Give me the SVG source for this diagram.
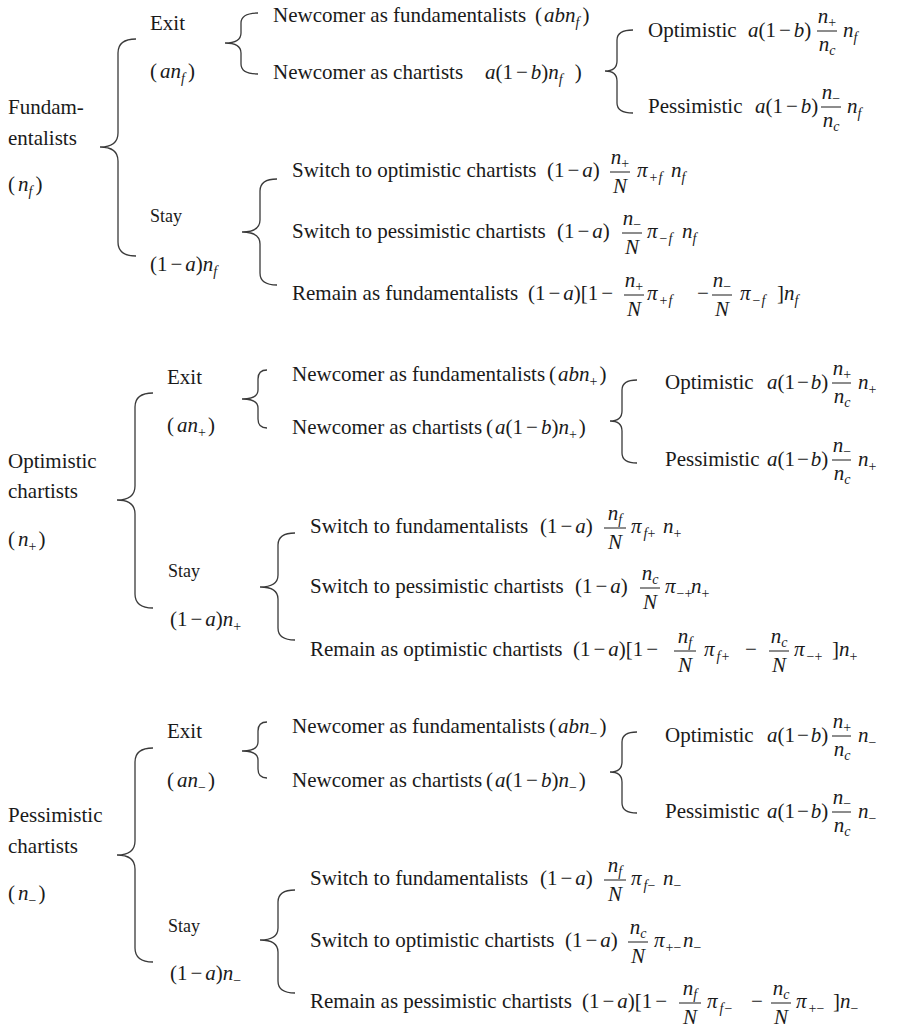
<svg xmlns="http://www.w3.org/2000/svg" width="906" height="1033" viewBox="0 0 906 1033">
<style>
text{font-family:"Liberation Serif","Times New Roman",serif;font-size:21px;fill:#1a1a1a}
.i{font-style:italic}
.s{font-size:14px}
.sy{font-size:18px}
.c{text-anchor:middle}
.br{fill:none;stroke:#3a3a3a;stroke-width:1.3}
.fb{stroke:#1a1a1a;stroke-width:1}
</style>
<rect width="906" height="1033" fill="#fff"/>
<g id="connectors">
<path class="br" d="M136,39 Q118,39 118,53 L118,133 Q118,147 100,147 Q118,147 118,161 L118,242 Q118,256 136,256"/>
<path class="br" d="M258,13 Q241,13 241,23 L241,33 Q241,43 225,43 Q241,43 241,53 L241,64 Q241,74 258,74"/>
<path class="br" d="M633,30 Q617,30 617,40 L617,61 Q617,71 605,71 Q617,71 617,81 L617,103 Q617,113 633,113"/>
<path class="br" d="M277,179 Q260,179 260,191 L260,220 Q260,232 242,232 Q260,232 260,244 L260,273 Q260,285 277,285"/>
<path class="br" d="M153,393 Q135,393 135,407 L135,486 Q135,500 117,500 Q135,500 135,514 L135,594 Q135,608 153,608"/>
<path class="br" d="M267,370 Q258,370 258,379 L258,390 Q258,399 242,399 Q258,399 258,408 L258,419 Q258,428 267,428"/>
<path class="br" d="M637,380 Q622,380 622,390 L622,411 Q622,421 610,421 Q622,421 622,431 L622,453 Q622,463 637,463"/>
<path class="br" d="M295,533 Q278,533 278,545 L278,575 Q278,587 260,587 Q278,587 278,599 L278,628 Q278,640 295,640"/>
<path class="br" d="M153,748 Q135,748 135,762 L135,841 Q135,855 117,855 Q135,855 135,869 L135,948 Q135,962 153,962"/>
<path class="br" d="M267,722 Q258,722 258,731 L258,742 Q258,751 242,751 Q258,751 258,760 L258,769 Q258,778 267,778"/>
<path class="br" d="M637,732 Q622,732 622,742 L622,762 Q622,772 610,772 Q622,772 622,782 L622,803 Q622,813 637,813"/>
<path class="br" d="M295,890 Q278,890 278,902 L278,928 Q278,940 260,940 Q278,940 278,952 L278,981 Q278,993 295,993"/>
</g>

<!-- Section 1: Fundamentalists -->
<g id="s1-root">
<text x="8" y="114">Fundam-</text>
<text x="8" y="145">entalists</text>
<text x="8" y="191">(<tspan class="i" dx="3">n</tspan><tspan class="s i" dy="5">f</tspan><tspan dy="-5" dx="3">)</tspan></text>
</g>
<g id="s1-exit">
<text x="150" y="30">Exit</text>
<text x="150" y="78">(<tspan class="i" dx="3">an</tspan><tspan class="s i" dy="5">f</tspan><tspan dy="-5" dx="3">)</tspan></text>
</g>
<g id="s1-stay">
<text class="sy" x="150" y="222">Stay</text>
<text x="150" y="271">(1<tspan dx="3">−</tspan><tspan dx="3" class="i">a</tspan>)<tspan class="i">n</tspan><tspan class="s i" dy="5">f</tspan></text>
</g>
<g id="s1-new-fund">
<text x="273" y="22">Newcomer as fundamentalists<tspan x="535">(</tspan><tspan class="i" dx="2">abn</tspan><tspan class="s i" dy="5">f</tspan><tspan dy="-5" dx="3">)</tspan></text>
</g>
<g id="s1-new-chart">
<text x="273" y="79">Newcomer as chartists<tspan x="485" class="i">a</tspan>(1<tspan dx="3">−</tspan><tspan dx="3" class="i">b</tspan>)<tspan class="i">n</tspan><tspan class="s i" dy="5">f</tspan><tspan dy="-5" dx="12">)</tspan></text>
</g>
<g id="s1-opt">
<text x="648" y="37">Optimistic<tspan x="748" class="i">a</tspan>(1<tspan dx="3">−</tspan><tspan dx="3" class="i">b</tspan>)<tspan x="843" class="i">n</tspan><tspan class="s i" dy="5">f</tspan></text>
<line class="fb" x1="817" y1="31" x2="837" y2="31"/>
<text class="c" x="827" y="23"><tspan class="i">n</tspan><tspan class="s" dy="4">+</tspan></text>
<text class="c" x="827" y="51"><tspan class="i">n</tspan><tspan class="s i" dy="4">c</tspan></text>
</g>
<g id="s1-pess">
<text x="648" y="113">Pessimistic<tspan x="755" class="i">a</tspan>(1<tspan dx="3">−</tspan><tspan dx="3" class="i">b</tspan>)<tspan x="847" class="i">n</tspan><tspan class="s i" dy="5">f</tspan></text>
<line class="fb" x1="821" y1="107" x2="841" y2="107"/>
<text class="c" x="831" y="99"><tspan class="i">n</tspan><tspan class="s" dy="4">−</tspan></text>
<text class="c" x="831" y="127"><tspan class="i">n</tspan><tspan class="s i" dy="4">c</tspan></text>
</g>
<g id="s1-sw-opt">
<text x="292" y="177">Switch to optimistic chartists<tspan x="547">(1</tspan><tspan dx="3">−</tspan><tspan dx="3" class="i">a</tspan>)<tspan x="637" class="i">π</tspan><tspan class="s" dy="5" dx="2">+</tspan><tspan class="s i" dx="1">f</tspan><tspan x="671" dy="-5" class="i">n</tspan><tspan class="s i" dy="5">f</tspan></text>
<line class="fb" x1="610" y1="172" x2="630" y2="172"/>
<text class="c" x="620" y="164"><tspan class="i">n</tspan><tspan class="s" dy="4">+</tspan></text>
<text class="c i" x="620" y="193">N</text>
</g>
<g id="s1-sw-pess">
<text x="292" y="238">Switch to pessimistic chartists<tspan x="557">(1</tspan><tspan dx="3">−</tspan><tspan dx="3" class="i">a</tspan>)<tspan x="647" class="i">π</tspan><tspan class="s" dy="5" dx="2">−</tspan><tspan class="s i" dx="1">f</tspan><tspan x="682" dy="-5" class="i">n</tspan><tspan class="s i" dy="5">f</tspan></text>
<line class="fb" x1="622" y1="233" x2="642" y2="233"/>
<text class="c" x="632" y="225"><tspan class="i">n</tspan><tspan class="s" dy="4">−</tspan></text>
<text class="c i" x="632" y="254">N</text>
</g>
<g id="s1-remain">
<text x="292" y="300">Remain as fundamentalists<tspan x="528">(1</tspan><tspan dx="3">−</tspan><tspan dx="3" class="i">a</tspan>)[1<tspan dx="3">−</tspan><tspan x="647" class="i">π</tspan><tspan class="s" dy="5" dx="2">+</tspan><tspan class="s i" dx="1">f</tspan><tspan x="697" dy="-5">−</tspan><tspan x="740" class="i">π</tspan><tspan class="s" dy="5" dx="2">−</tspan><tspan class="s i" dx="1">f</tspan><tspan x="777" dy="-5">]</tspan><tspan class="i">n</tspan><tspan class="s i" dy="5">f</tspan></text>
<line class="fb" x1="624" y1="295" x2="644" y2="295"/>
<text class="c" x="634" y="287"><tspan class="i">n</tspan><tspan class="s" dy="4">+</tspan></text>
<text class="c i" x="634" y="316">N</text>
<line class="fb" x1="712" y1="295" x2="732" y2="295"/>
<text class="c" x="722" y="287"><tspan class="i">n</tspan><tspan class="s" dy="4">−</tspan></text>
<text class="c i" x="722" y="316">N</text>
</g>

<!-- Section 2: Optimistic chartists -->
<g id="s2-root">
<text x="8" y="468">Optimistic</text>
<text x="8" y="498">chartists</text>
<text x="8" y="546">(<tspan class="i" dx="3">n</tspan><tspan class="s" dy="5">+</tspan><tspan dy="-5" dx="2">)</tspan></text>
</g>
<g id="s2-exit">
<text x="167" y="384">Exit</text>
<text x="167" y="432">(<tspan class="i" dx="3">an</tspan><tspan class="s" dy="5">+</tspan><tspan dy="-5" dx="2">)</tspan></text>
</g>
<g id="s2-stay">
<text class="sy" x="168" y="577">Stay</text>
<text x="170" y="626">(1<tspan dx="3">−</tspan><tspan dx="3" class="i">a</tspan>)<tspan class="i">n</tspan><tspan class="s" dy="5">+</tspan></text>
</g>
<g id="s2-new-fund">
<text x="292" y="381">Newcomer as fundamentalists<tspan dx="4">(</tspan><tspan class="i" dx="2">abn</tspan><tspan class="s" dy="5">+</tspan><tspan dy="-5" dx="2">)</tspan></text>
</g>
<g id="s2-new-chart">
<text x="292" y="434">Newcomer as chartists<tspan dx="4">(</tspan><tspan class="i" dx="2">a</tspan>(1<tspan dx="3">−</tspan><tspan dx="3" class="i">b</tspan>)<tspan class="i">n</tspan><tspan class="s" dy="5">+</tspan><tspan dy="-5" dx="2">)</tspan></text>
</g>
<g id="s2-opt">
<text x="665" y="389">Optimistic<tspan x="767" class="i">a</tspan>(1<tspan dx="2">−</tspan><tspan dx="2" class="i">b</tspan>)<tspan x="858" class="i">n</tspan><tspan class="s" dy="5">+</tspan></text>
<line class="fb" x1="832" y1="383" x2="851" y2="383"/>
<text class="c" x="842" y="375"><tspan class="i">n</tspan><tspan class="s" dy="4">+</tspan></text>
<text class="c" x="842" y="403"><tspan class="i">n</tspan><tspan class="s i" dy="4">c</tspan></text>
</g>
<g id="s2-pess">
<text x="665" y="466">Pessimistic<tspan x="767" class="i">a</tspan>(1<tspan dx="2">−</tspan><tspan dx="2" class="i">b</tspan>)<tspan x="858" class="i">n</tspan><tspan class="s" dy="5">+</tspan></text>
<line class="fb" x1="832" y1="460" x2="851" y2="460"/>
<text class="c" x="842" y="452"><tspan class="i">n</tspan><tspan class="s" dy="4">−</tspan></text>
<text class="c" x="842" y="480"><tspan class="i">n</tspan><tspan class="s i" dy="4">c</tspan></text>
</g>
<g id="s2-sw-fund">
<text x="310" y="533">Switch to fundamentalists<tspan x="540">(1</tspan><tspan dx="3">−</tspan><tspan dx="3" class="i">a</tspan>)<tspan x="631" class="i">π</tspan><tspan class="s i" dy="5" dx="2">f</tspan><tspan class="s">+</tspan><tspan x="663" dy="-5" class="i">n</tspan><tspan class="s" dy="5">+</tspan></text>
<line class="fb" x1="604" y1="528" x2="626" y2="528"/>
<text class="c" x="615" y="520"><tspan class="i">n</tspan><tspan class="s i" dy="4">f</tspan></text>
<text class="c i" x="615" y="549">N</text>
</g>
<g id="s2-sw-pess">
<text x="310" y="593">Switch to pessimistic chartists<tspan x="575">(1</tspan><tspan dx="3">−</tspan><tspan dx="3" class="i">a</tspan>)<tspan x="665" class="i">π</tspan><tspan class="s" dy="5" dx="1">−+</tspan><tspan x="691" dy="-5" class="i">n</tspan><tspan class="s" dy="5">+</tspan></text>
<line class="fb" x1="640" y1="588" x2="660" y2="588"/>
<text class="c" x="650" y="580"><tspan class="i">n</tspan><tspan class="s i" dy="4">c</tspan></text>
<text class="c i" x="650" y="609">N</text>
</g>
<g id="s2-remain">
<text x="310" y="656">Remain as optimistic chartists<tspan x="573">(1</tspan><tspan dx="3">−</tspan><tspan dx="3" class="i">a</tspan>)[1<tspan dx="3">−</tspan><tspan x="704" class="i">π</tspan><tspan class="s i" dy="5" dx="2">f</tspan><tspan class="s" dx="1">+</tspan><tspan x="745" dy="-5">−</tspan><tspan x="794" class="i">π</tspan><tspan class="s" dy="5" dx="2">−+</tspan><tspan x="832" dy="-5">]</tspan><tspan class="i">n</tspan><tspan class="s" dy="5">+</tspan></text>
<line class="fb" x1="674" y1="651" x2="696" y2="651"/>
<text class="c" x="685" y="643"><tspan class="i">n</tspan><tspan class="s i" dy="4">f</tspan></text>
<text class="c i" x="685" y="672">N</text>
<line class="fb" x1="769" y1="651" x2="789" y2="651"/>
<text class="c" x="779" y="643"><tspan class="i">n</tspan><tspan class="s i" dy="4">c</tspan></text>
<text class="c i" x="779" y="672">N</text>
</g>

<!-- Section 3: Pessimistic chartists -->
<g id="s3-root">
<text x="8" y="822">Pessimistic</text>
<text x="8" y="853">chartists</text>
<text x="8" y="900">(<tspan class="i" dx="3">n</tspan><tspan class="s" dy="5">−</tspan><tspan dy="-5" dx="2">)</tspan></text>
</g>
<g id="s3-exit">
<text x="167" y="738">Exit</text>
<text x="167" y="787">(<tspan class="i" dx="3">an</tspan><tspan class="s" dy="5">−</tspan><tspan dy="-5" dx="2">)</tspan></text>
</g>
<g id="s3-stay">
<text class="sy" x="168" y="932">Stay</text>
<text x="170" y="980">(1<tspan dx="3">−</tspan><tspan dx="3" class="i">a</tspan>)<tspan class="i">n</tspan><tspan class="s" dy="5">−</tspan></text>
</g>
<g id="s3-new-fund">
<text x="292" y="733">Newcomer as fundamentalists<tspan dx="4">(</tspan><tspan class="i" dx="2">abn</tspan><tspan class="s" dy="5">−</tspan><tspan dy="-5" dx="2">)</tspan></text>
</g>
<g id="s3-new-chart">
<text x="292" y="787">Newcomer as chartists<tspan dx="4">(</tspan><tspan class="i" dx="2">a</tspan>(1<tspan dx="3">−</tspan><tspan dx="3" class="i">b</tspan>)<tspan class="i">n</tspan><tspan class="s" dy="5">−</tspan><tspan dy="-5" dx="2">)</tspan></text>
</g>
<g id="s3-opt">
<text x="665" y="742">Optimistic<tspan x="767" class="i">a</tspan>(1<tspan dx="2">−</tspan><tspan dx="2" class="i">b</tspan>)<tspan x="858" class="i">n</tspan><tspan class="s" dy="5">−</tspan></text>
<line class="fb" x1="832" y1="736" x2="851" y2="736"/>
<text class="c" x="842" y="728"><tspan class="i">n</tspan><tspan class="s" dy="4">+</tspan></text>
<text class="c" x="842" y="756"><tspan class="i">n</tspan><tspan class="s i" dy="4">c</tspan></text>
</g>
<g id="s3-pess">
<text x="665" y="818">Pessimistic<tspan x="767" class="i">a</tspan>(1<tspan dx="2">−</tspan><tspan dx="2" class="i">b</tspan>)<tspan x="858" class="i">n</tspan><tspan class="s" dy="5">−</tspan></text>
<line class="fb" x1="832" y1="812" x2="851" y2="812"/>
<text class="c" x="842" y="804"><tspan class="i">n</tspan><tspan class="s" dy="4">−</tspan></text>
<text class="c" x="842" y="832"><tspan class="i">n</tspan><tspan class="s i" dy="4">c</tspan></text>
</g>
<g id="s3-sw-fund">
<text x="310" y="885">Switch to fundamentalists<tspan x="540">(1</tspan><tspan dx="3">−</tspan><tspan dx="3" class="i">a</tspan>)<tspan x="631" class="i">π</tspan><tspan class="s i" dy="5" dx="2">f</tspan><tspan class="s">−</tspan><tspan x="663" dy="-5" class="i">n</tspan><tspan class="s" dy="5">−</tspan></text>
<line class="fb" x1="604" y1="880" x2="626" y2="880"/>
<text class="c" x="615" y="872"><tspan class="i">n</tspan><tspan class="s i" dy="4">f</tspan></text>
<text class="c i" x="615" y="901">N</text>
</g>
<g id="s3-sw-opt">
<text x="310" y="947">Switch to optimistic chartists<tspan x="565">(1</tspan><tspan dx="3">−</tspan><tspan dx="3" class="i">a</tspan>)<tspan x="654" class="i">π</tspan><tspan class="s" dy="5" dx="1">+−</tspan><tspan x="683" dy="-5" class="i">n</tspan><tspan class="s" dy="5">−</tspan></text>
<line class="fb" x1="628" y1="942" x2="648" y2="942"/>
<text class="c" x="638" y="934"><tspan class="i">n</tspan><tspan class="s i" dy="4">c</tspan></text>
<text class="c i" x="638" y="963">N</text>
</g>
<g id="s3-remain">
<text x="310" y="1008">Remain as pessimistic chartists<tspan x="582">(1</tspan><tspan dx="3">−</tspan><tspan dx="3" class="i">a</tspan>)[1<tspan dx="3">−</tspan><tspan x="707" class="i">π</tspan><tspan class="s i" dy="5" dx="2">f</tspan><tspan class="s" dx="1">−</tspan><tspan x="751" dy="-5">−</tspan><tspan x="796" class="i">π</tspan><tspan class="s" dy="5" dx="2">+−</tspan><tspan x="833" dy="-5">]</tspan><tspan class="i">n</tspan><tspan class="s" dy="5">−</tspan></text>
<line class="fb" x1="679" y1="1003" x2="701" y2="1003"/>
<text class="c" x="690" y="995"><tspan class="i">n</tspan><tspan class="s i" dy="4">f</tspan></text>
<text class="c i" x="690" y="1024">N</text>
<line class="fb" x1="771" y1="1003" x2="791" y2="1003"/>
<text class="c" x="781" y="995"><tspan class="i">n</tspan><tspan class="s i" dy="4">c</tspan></text>
<text class="c i" x="781" y="1024">N</text>
</g>
</svg>
